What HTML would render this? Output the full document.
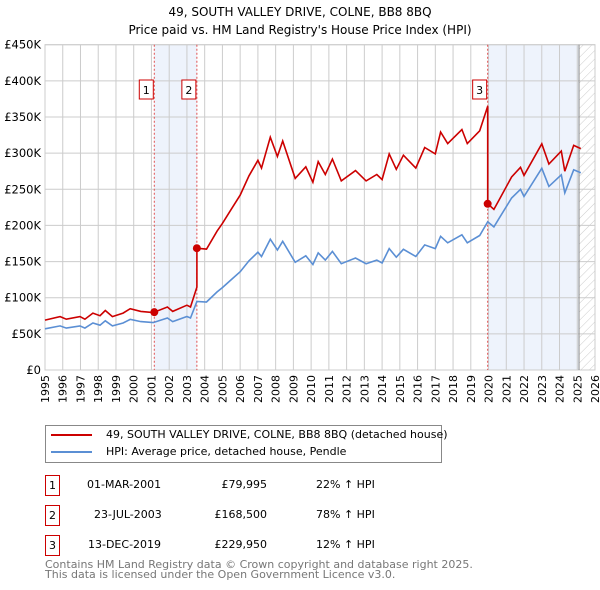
<!DOCTYPE html>
<html><head><meta charset="utf-8">
<style>
body{margin:0;background:#fff;font-family:"DejaVu Sans","Liberation Sans",sans-serif;}
#wrap{position:relative;width:600px;height:590px;overflow:hidden;}
.t{position:absolute;white-space:nowrap;font-size:11px;color:#000;line-height:13px;}
.box{position:absolute;border:1px solid #c00;width:13px;height:19px;text-align:center;line-height:19px;font-size:11px;}
</style></head><body>
<div id="wrap">
<svg id="chart" width="600" height="420" style="position:absolute;left:0;top:0"></svg>
<div style="position:absolute;left:45px;top:425px;width:395px;height:36px;border:1px solid #888;">
  <div style="position:absolute;left:5px;top:2px;height:14px;width:385px;">
    <div style="position:absolute;left:0;top:6px;width:41px;height:2px;background:#cc0000"></div>
    <span class="t" style="left:55px;top:0">49, SOUTH VALLEY DRIVE, COLNE, BB8 8BQ (detached house)</span></div>
  <div style="position:absolute;left:5px;top:19px;height:14px;width:385px;">
    <div style="position:absolute;left:0;top:6px;width:41px;height:2px;background:#5b8fd4"></div>
    <span class="t" style="left:55px;top:0">HPI: Average price, detached house, Pendle</span></div>
</div>
<div class="box" style="left:45px;top:475px">1</div>
<span class="t" style="left:87px;top:478px">01-MAR-2001</span>
<span class="t" style="left:187px;top:478px;width:80px;text-align:right">£79,995</span>
<span class="t" style="left:316px;top:478px">22% ↑ HPI</span>
<div class="box" style="left:45px;top:505px">2</div>
<span class="t" style="left:94px;top:508px">23-JUL-2003</span>
<span class="t" style="left:187px;top:508px;width:80px;text-align:right">£168,500</span>
<span class="t" style="left:316px;top:508px">78% ↑ HPI</span>
<div class="box" style="left:45px;top:535px">3</div>
<span class="t" style="left:88px;top:538px">13-DEC-2019</span>
<span class="t" style="left:187px;top:538px;width:80px;text-align:right">£229,950</span>
<span class="t" style="left:316px;top:538px">12% ↑ HPI</span>
<div class="t" style="left:45px;top:560px;color:#777;font-size:11px;line-height:10px">Contains HM Land Registry data © Crown copyright and database right 2025.<br>This data is licensed under the Open Government Licence v3.0.</div>
</div>
<script>
const hpiYears=[1995.0,1995.85,1996.2,1996.97,1997.25,1997.7,1998.1,1998.4,1998.8,1999.4,1999.8,2000.4,2001.1,2001.9,2002.2,2003.0,2003.2,2003.56,2004.1,2004.7,2005.0,2005.5,2006.0,2006.5,2007.0,2007.2,2007.7,2008.1,2008.4,2009.1,2009.7,2010.1,2010.4,2010.8,2011.2,2011.7,2012.5,2013.1,2013.7,2014.0,2014.4,2014.8,2015.2,2015.9,2016.4,2017.0,2017.3,2017.7,2018.5,2018.8,2019.5,2019.95,2020.3,2020.6,2021.3,2021.8,2022.0,2023.0,2023.4,2024.1,2024.3,2024.8,2025.2];
const hpiValues=[57,61,58,61,58,65,62,68,61,65,70,67,65.6,72,67,74,72,94.7,94,108,114,125,136,151,163,157,181,166,178,149,158,146,162,152,164,147,155,147,152,148,168,156,167,157,173,168,185,176,187,176,186,205,198,210,238,250,240,279,254,270,245,277,273];
const saleYears=[2001.16,2003.56,2019.95];
const salePrices=[79995,168500,229950];
const saleLabels=["1","2","3"];
const yTicks=[0,50,100,150,200,250,300,350,400,450];
const yTickLabels=["£0","£50K","£100K","£150K","£200K","£250K","£300K","£350K","£400K","£450K"];
const xTicks=[1995,1996,1997,1998,1999,2000,2001,2002,2003,2004,2005,2006,2007,2008,2009,2010,2011,2012,2013,2014,2015,2016,2017,2018,2019,2020,2021,2022,2023,2024,2025,2026];

const L=45,R=595,T=44.7,B=370;
const FONT='DejaVu Sans,Liberation Sans,sans-serif';
const X=y=>L+(y-1995)*(R-L)/31;
const Y=v=>B-v*(B-T)/450;
const svg=document.getElementById('chart');
const NS='http://www.w3.org/2000/svg';
function mk(tag,attrs,parent){const e=document.createElementNS(NS,tag);for(const k in attrs)e.setAttribute(k,attrs[k]);(parent||svg).appendChild(e);return e;}

const title=mk('text',{x:300,y:16,'text-anchor':'middle','font-size':12,'font-family':FONT});
title.textContent='49, SOUTH VALLEY DRIVE, COLNE, BB8 8BQ';


const sub=mk('text',{x:300,y:34,'text-anchor':'middle','font-size':12,'font-family':FONT});
sub.textContent="Price paid vs. HM Land Registry's House Price Index (HPI)";



const b1=mk('rect',{x:X(saleYears[0]),y:T,width:X(saleYears[1])-X(saleYears[0]),height:B-T,fill:'#eef3fc'});


const b2=mk('rect',{x:X(saleYears[2]),y:T,width:X(2025.1)-X(saleYears[2]),height:B-T,fill:'#eef3fc'});


const defs=mk('defs',{});
const pat=mk('pattern',{id:'hatch',width:6,height:6,patternUnits:'userSpaceOnUse',patternTransform:'rotate(45)'},defs);
mk('line',{x1:0,y1:0,x2:0,y2:6,stroke:'#ccc','stroke-width':1},pat);
const hz=mk('rect',{x:X(2025.1),y:T,width:R-X(2025.1),height:B-T,fill:'url(#hatch)'});



yTicks.forEach((v,i)=>{
  const g=mk('line',{x1:L,x2:R,y1:Y(v),y2:Y(v),stroke:'#ccc','stroke-width':1});
  
  
  const t=mk('text',{x:L-4,y:Y(v)+4,'text-anchor':'end','font-size':11.5,'font-family':FONT});
  t.textContent=yTickLabels[i];
  
  
});
xTicks.forEach(yr=>{
  const g=mk('line',{x1:X(yr),x2:X(yr),y1:T,y2:B,stroke:'#ccc','stroke-width':1});
  
  
  const t=mk('text',{x:0,y:0,'text-anchor':'end','font-size':11,'font-family':FONT,transform:`translate(${(X(yr)+4).toFixed(1)},${B+5}) rotate(-90)`});
  t.textContent=yr;
  
  
});
const fr=mk('rect',{x:L,y:T,width:R-L,height:B-T,fill:'none',stroke:'#ccc'});


const nowLine=mk('line',{x1:X(2025.1),x2:X(2025.1),y1:T,y2:B,stroke:'#888','stroke-width':1});



saleYears.forEach((yr,i)=>{
  const l=mk('line',{x1:X(yr),x2:X(yr),y1:T,y2:B,stroke:'#e05050','stroke-width':1,'stroke-dasharray':'2,2'});
  
  
});

function hpiAt(yr){
  for(let i=0;i<hpiYears.length-1;i++){
    if(yr>=hpiYears[i]&&yr<=hpiYears[i+1]){const f=(yr-hpiYears[i])/(hpiYears[i+1]-hpiYears[i]);return hpiValues[i]+f*(hpiValues[i+1]-hpiValues[i]);}
  }
  return yr<hpiYears[0]?hpiValues[0]:hpiValues[hpiValues.length-1];
}
const hp=hpiYears.map((y,i)=>X(y).toFixed(1)+','+Y(hpiValues[i]).toFixed(1)).join(' ');
const hl=mk('polyline',{points:hp,fill:'none',stroke:'#5b8fd4','stroke-width':1.6});



const ratios=saleYears.map((y,i)=>salePrices[i]/1000/hpiAt(y));
function ratioAt(yr){let r=ratios[0];for(let i=0;i<saleYears.length;i++){if(yr>=saleYears[i])r=ratios[i];}return r;}
const pts=[];
hpiYears.forEach((y,i)=>{
  saleYears.forEach((s,j)=>{if(j>0&&i>0&&s>hpiYears[i-1]&&s<=y){pts.push([s,hpiAt(s)*ratios[j-1]]);pts.push([s,salePrices[j]/1000]);}});
  pts.push([y,hpiValues[i]*ratioAt(y)]);
});
const rl=mk('polyline',{points:pts.map(p=>X(p[0]).toFixed(1)+','+Y(p[1]).toFixed(1)).join(' '),fill:'none',stroke:'#cc0000','stroke-width':1.6});



saleYears.forEach((yr,i)=>{
  const c=mk('circle',{cx:X(yr),cy:Y(salePrices[i]/1000),r:4,fill:'#cc0000'});
  
  
  const g=mk('g',{});
  
  
  mk('rect',{x:X(yr)-15,y:80,width:14,height:19,fill:'#fff',stroke:'#cc0000'},g);
  const t=mk('text',{x:X(yr)-8,y:94,'text-anchor':'middle','font-size':11,'font-family':FONT},g);
  t.textContent=saleLabels[i];
});
</script>
</body></html>
